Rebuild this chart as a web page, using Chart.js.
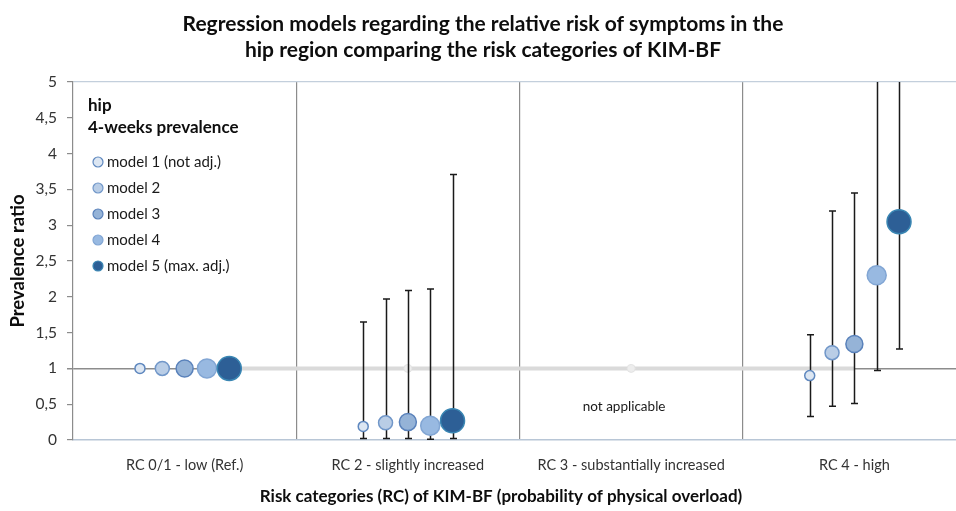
<!DOCTYPE html>
<html>
<head>
<meta charset="utf-8">
<script src="https://cdn.jsdelivr.net/npm/chart.js@4"></script>
<style>
  html, body { margin: 0; padding: 0; background: #fff; overflow: hidden; }
  #wrap { width: 956px; height: 511px; overflow: hidden; }
</style>
</head>
<body>
<div id="wrap"><canvas id="chart" width="1010" height="511"></canvas></div>
<script>
// Datos (RC 3 no aplica)
const categories = ['RC 0/1 - low (Ref.)', 'RC 2 - slightly increased', 'RC 3 - substantially increased', 'RC 4 - high'];
const models = ['model 1 (not adj.)', 'model 2', 'model 3', 'model 4', 'model 5 (max. adj.)'];

// prevalence ratio por modelo (filas) y categoría (columnas)
const ratio = [
  [1, 0.19, null, 0.90],
  [1, 0.24, null, 1.22],
  [1, 0.25, null, 1.34],
  [1, 0.20, null, 2.30],
  [1, 0.27, null, 3.05]
];
// intervalos de confianza (los dos últimos de RC 4 salen por arriba del eje)
const lower = [
  [null, 0.02, null, 0.33],
  [null, 0.02, null, 0.47],
  [null, 0.02, null, 0.51],
  [null, 0.01, null, 0.97],
  [null, 0.02, null, 1.27]
];
const upper = [
  [null, 1.65, null, 1.47],
  [null, 1.97, null, 3.20],
  [null, 2.09, null, 3.45],
  [null, 2.11, null, 5.6],
  [null, 3.71, null, 6.2]
];
const yTicks = [0, 0.5, 1, 1.5, 2, 2.5, 3, 3.5, 4, 4.5, 5];

// estilos
const fills   = ['#dce6f2', '#b9cde6', '#95b3d7', '#98b9e1', '#2d5f96'];
const borders = ['#5f88bf', '#7197c9', '#5a82bb', '#82a6d4', '#3a86b3'];
const radii   = [5, 7, 8.5, 9.5, 12];
const FONT = 'Lato, "Open Sans", sans-serif';

// posición x de cada modelo dentro de la categoría
function xPos(ci, mi) { return ci + 0.5 + (mi - 2) * 0.1; }

const bubbleSets = models.map((name, mi) => ({
  type: 'scatter',
  label: name,
  order: 5 - mi,
  data: categories.map((c, ci) => ratio[mi][ci] == null ? null : { x: xPos(ci, mi), y: ratio[mi][ci] })
         .filter(Boolean),
  pointRadius: radii[mi],
  pointHoverRadius: radii[mi],
  backgroundColor: fills[mi],
  borderColor: borders[mi],
  pointBorderWidth: 1.5,
  showLine: false
}));

// línea gris clara de referencia (RR = 1) entre categorías
const refSet = {
  type: 'line',
  label: 'ref',
  order: 20,
  data: [
    { x: xPos(0, 4), y: 1 },
    { x: 1.5, y: 1 },
    { x: 2.5, y: 1 },
    { x: xPos(3, 2), y: 1 }
  ],
  borderColor: '#dadada',
  borderWidth: 4,
  pointRadius: [0, 4, 4, 0],
  pointBackgroundColor: '#ededed',
  pointBorderColor: '#e3e3e3',
  pointBorderWidth: 1,
  tension: 0
};

// Barras de error: se dibujan justo después de la línea de referencia
const errorBars = {
  id: 'errorBars',
  afterDatasetDraw(chart, args) {
    if (chart.data.datasets[args.index].label !== 'ref') return;
    const { ctx, chartArea: a, scales: { x, y } } = chart;
    ctx.save();
    ctx.beginPath();
    ctx.rect(a.left, a.top, a.right - a.left, a.bottom - a.top);
    ctx.clip();
    ctx.strokeStyle = '#1a1a1a';
    ctx.lineWidth = 1.5;
    models.forEach((m, mi) => {
      categories.forEach((c, ci) => {
        const lo = lower[mi][ci], hi = upper[mi][ci];
        if (lo == null || hi == null) return;
        const px = Math.round(x.getPixelForValue(xPos(ci, mi))) + 0.5;
        const p1 = y.getPixelForValue(lo), p2 = y.getPixelForValue(hi);
        ctx.beginPath();
        ctx.moveTo(px, p1); ctx.lineTo(px, p2);
        ctx.moveTo(px - 3.5, p1); ctx.lineTo(px + 3.5, p1);
        ctx.moveTo(px - 3.5, p2); ctx.lineTo(px + 3.5, p2);
        ctx.stroke();
      });
    });
    ctx.restore();
  }
};

// Leyenda interna, "not applicable" y título del eje x
const texts = {
  id: 'texts',
  afterDraw(chart) {
    const { ctx, scales: { x, y } } = chart;
    ctx.save();
    ctx.fillStyle = '#0d0d0d';
    ctx.textBaseline = 'middle';
    ctx.textAlign = 'left';
    ctx.font = 'bold 17px ' + FONT;
    ctx.fillText('hip', 88, 106);
    ctx.fillText('4-weeks prevalence', 88, 128);

    ctx.font = '15px ' + FONT;
    models.forEach((m, mi) => {
      const cy = 162 + mi * 26;
      ctx.beginPath();
      ctx.arc(98, cy, 5, 0, Math.PI * 2);
      ctx.fillStyle = fills[mi];
      ctx.fill();
      ctx.lineWidth = 1.2;
      ctx.strokeStyle = borders[mi];
      ctx.stroke();
      ctx.fillStyle = '#1a1a1a';
      ctx.fillText(m, 107, cy);
    });

    ctx.font = '13.5px ' + FONT;
    ctx.textAlign = 'center';
    ctx.fillStyle = '#1a1a1a';
    ctx.fillText('not applicable', x.getPixelForValue(2.5) - 7, y.getPixelForValue(0.46));

    ctx.font = 'bold 17px ' + FONT;
    ctx.fillStyle = '#0d0d0d';
    ctx.fillText('Risk categories (RC) of KIM-BF (probability of physical overload)', 501, 497);
    ctx.restore();
  }
};

new Chart(document.getElementById('chart').getContext('2d'), {
  data: { datasets: [...bubbleSets, refSet] },
  options: {
    responsive: false,
    animation: false,
    layout: { padding: { left: 0, right: 44, top: 0, bottom: 0 } },
    plugins: {
      legend: { display: false },
      tooltip: { enabled: false },
      title: {
        display: true,
        text: ['Regression models regarding the relative risk of symptoms in the',
               'hip region comparing the risk categories of KIM-BF'],
        color: '#0d0d0d',
        font: { family: FONT, size: 21, weight: 'bold', lineHeight: 1.24 },
        padding: { top: 11, bottom: 19 }
      }
    },
    scales: {
      x: {
        type: 'linear',
        min: 0,
        max: 4,
        afterBuildTicks: s => { s.ticks = [0, 0.5, 1, 1.5, 2, 2.5, 3, 3.5, 4].map(v => ({ value: v })); },
        afterFit: s => { s.height = 71; },
        ticks: {
          autoSkip: false,
          maxRotation: 0,
          padding: 17,
          color: '#333333',
          font: { family: FONT, size: 14.5 },
          callback: v => (v % 1 === 0.5 ? categories[Math.floor(v)] : '')
        },
        grid: {
          drawTicks: false,
          color: ctx => (ctx.tick && ctx.tick.value % 1 === 0 && ctx.tick.value > 0 ? '#8c8c8c' : 'rgba(0,0,0,0)'),
          lineWidth: 1.2
        },
        border: { color: '#b8c6d6', width: 1.5 }
      },
      y: {
        min: 0,
        max: 5,
        afterBuildTicks: s => { s.ticks = yTicks.map(v => ({ value: v })); },
        afterFit: s => { s.width = 73; },
        ticks: {
          padding: 10,
          color: '#333333',
          font: { family: FONT, size: 15.5 },
          callback: v => String(v).replace('.', ',')
        },
        grid: {
          drawTicks: true,
          tickLength: 6,
          tickColor: '#8c8c8c',
          color: ctx => {
            const v = ctx.tick && ctx.tick.value;
            if (v === 1) return '#8c8c8c';
            if (v === 5) return '#c3cfdc';
            return 'rgba(0,0,0,0)';
          },
          lineWidth: ctx => (ctx.tick && ctx.tick.value === 1 ? 1.5 : 1.2)
        },
        border: { color: '#8c8c8c', width: 1.2 },
        title: {
          display: true,
          text: 'Prevalence ratio',
          color: '#0d0d0d',
          font: { family: FONT, size: 18.5, weight: 'bold', lineHeight: 1.2 },
          padding: { top: 7, bottom: 4 }
        }
      }
    }
  },
  plugins: [errorBars, texts]
});
</script>
</body>
</html>
